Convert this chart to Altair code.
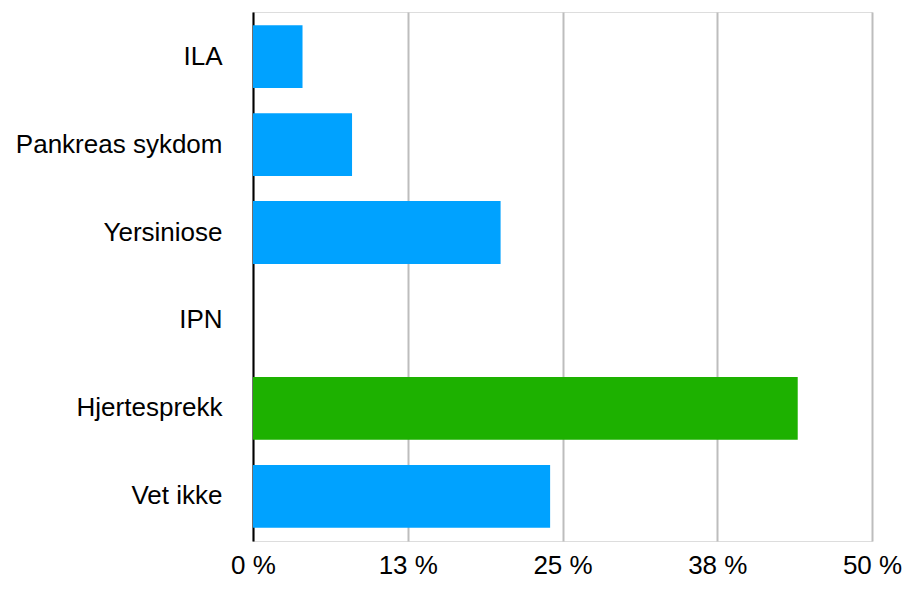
import altair as alt
import pandas as pd

categories = ["ILA", "Pankreas sykdom", "Yersiniose", "IPN", "Hjertesprekk", "Vet ikke"]
values = [4, 8, 20, 0, 44, 24]
colors = ["#00A2FF", "#00A2FF", "#00A2FF", "#00A2FF", "#1DB100", "#00A2FF"]
x_ticks = [0, 12.5, 25, 37.5, 50]

df = pd.DataFrame({"kategori": categories, "andel": values, "farge": colors})

FONT = "Liberation Sans"

chart = alt.Chart(df).mark_bar().encode(
    y=alt.Y(
        "kategori:N",
        sort=categories,
        scale=alt.Scale(paddingInner=0.285, paddingOuter=0.15),
        axis=alt.Axis(
            title=None,
            ticks=False,
            domain=True,
            domainColor="#000000",
            domainWidth=2,
            labelFont=FONT,
            labelFontSize=26,
            labelColor="#000000",
            labelPadding=31,
            labelLimit=400,
            grid=False,
        ),
    ),
    x=alt.X(
        "andel:Q",
        scale=alt.Scale(domain=[0, 50], nice=False),
        axis=alt.Axis(
            title=None,
            values=x_ticks,
            labelExpr="format(round(datum.value), 'd') + ' %'",
            ticks=False,
            domain=False,
            grid=True,
            gridColor="#BDBDBD",
            gridWidth=2,
            labelFont=FONT,
            labelFontSize=26,
            labelColor="#000000",
            labelPadding=11,
            labelFlush=False,
        ),
    ),
    color=alt.Color("farge:N", scale=None, legend=None),
).properties(
    width=619,
    height=529,
    autosize=alt.AutoSizeParams(type="none"),
    padding={"left": 245, "top": 4, "right": 31, "bottom": 44},
).configure_view(stroke=None).configure(background="#FFFFFF")

chart.save("out.html", embed_options={"renderer": "svg", "actions": False})
